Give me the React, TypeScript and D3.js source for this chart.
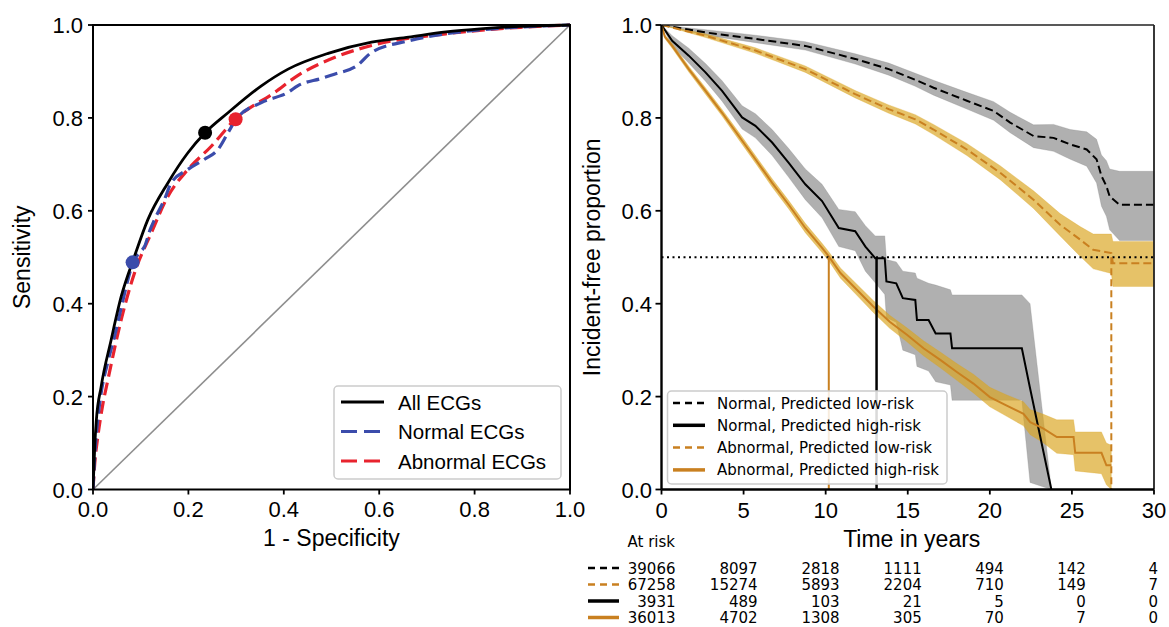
import React from 'react';
import * as d3 from 'd3';

// ---------- ROC data ----------
const allFpr = [0, 0.002, 0.004, 0.007, 0.017, 0.038, 0.059, 0.087, 0.115, 0.157, 0.199, 0.235, 0.283, 0.353, 0.409, 0.493, 0.584, 0.662, 0.740, 0.818, 0.896, 1.0];
const allTpr = [0, 0.05, 0.10, 0.149, 0.221, 0.322, 0.415, 0.502, 0.581, 0.660, 0.725, 0.768, 0.811, 0.869, 0.905, 0.939, 0.963, 0.974, 0.985, 0.992, 0.997, 1.0];
const normFpr = [0, 0.002, 0.004, 0.010, 0.017, 0.030, 0.045, 0.060, 0.073, 0.084, 0.100, 0.108, 0.120, 0.129, 0.150, 0.164, 0.199, 0.234, 0.262, 0.283, 0.300, 0.353, 0.409, 0.429, 0.479, 0.506, 0.553, 0.584, 0.662, 0.740, 0.818, 1.0];
const normTpr = [0, 0.04, 0.078, 0.150, 0.207, 0.270, 0.329, 0.395, 0.451, 0.489, 0.512, 0.523, 0.560, 0.581, 0.625, 0.660, 0.689, 0.711, 0.732, 0.768, 0.797, 0.833, 0.855, 0.869, 0.885, 0.894, 0.912, 0.941, 0.966, 0.981, 0.990, 1.0];
const abnFpr = [0, 0.004, 0.010, 0.020, 0.031, 0.059, 0.087, 0.122, 0.157, 0.199, 0.248, 0.298, 0.381, 0.429, 0.506, 0.584, 0.740, 0.896, 1.0];
const abnTpr = [0, 0.06, 0.113, 0.18, 0.235, 0.365, 0.466, 0.552, 0.631, 0.689, 0.739, 0.797, 0.855, 0.891, 0.930, 0.956, 0.981, 0.995, 1.0];
const opPoints = [
  { name: 'All', fpr: 0.235, tpr: 0.768 },
  { name: 'Normal', fpr: 0.083, tpr: 0.489 },
  { name: 'Abnormal', fpr: 0.299, tpr: 0.797 },
];
const rocTicks = [0, 0.2, 0.4, 0.6, 0.8, 1.0];

// ---------- Kaplan-Meier data ----------
const nlT = [0, 2.68, 5.72, 8.76, 11.8, 13.84, 15.46, 16.57, 18.6, 20.23, 21.24, 22.66, 23.88, 24.9, 25.9, 26.5, 26.8, 27.1, 27.3, 27.9, 30];
const nlS = [1, 0.984, 0.970, 0.955, 0.927, 0.905, 0.882, 0.865, 0.837, 0.815, 0.790, 0.761, 0.757, 0.743, 0.732, 0.711, 0.675, 0.653, 0.631, 0.613, 0.613];
const nlLo = [1, 0.978, 0.962, 0.946, 0.916, 0.892, 0.868, 0.849, 0.819, 0.795, 0.768, 0.736, 0.728, 0.711, 0.696, 0.660, 0.610, 0.588, 0.559, 0.536, 0.536];
const nlHi = [1, 0.990, 0.978, 0.964, 0.938, 0.918, 0.896, 0.881, 0.855, 0.835, 0.812, 0.785, 0.786, 0.775, 0.770, 0.754, 0.720, 0.708, 0.690, 0.685, 0.685];

const alT = [0, 2.68, 5.72, 8.76, 11.8, 13.84, 15.46, 16.57, 18.6, 20.63, 22.66, 24.28, 25.5, 26.3, 27.4, 27.5, 30];
const alS = [1, 0.977, 0.945, 0.905, 0.851, 0.819, 0.797, 0.775, 0.732, 0.682, 0.624, 0.570, 0.538, 0.516, 0.509, 0.487, 0.487];
const alLo = [1, 0.973, 0.939, 0.898, 0.843, 0.810, 0.787, 0.764, 0.719, 0.667, 0.605, 0.546, 0.502, 0.475, 0.465, 0.437, 0.437];
const alHi = [1, 0.981, 0.951, 0.912, 0.859, 0.828, 0.807, 0.786, 0.745, 0.697, 0.643, 0.594, 0.566, 0.550, 0.550, 0.534, 0.534];

const nhT = [0, 0.65, 1.66, 2.68, 3.69, 4.91, 5.72, 6.74, 7.75, 8.76, 9.78, 10.8, 11.8, 12.42, 13.02, 13.6, 13.7, 14.3, 14.7, 15.46, 15.56, 16.27, 16.7, 17.6, 17.7, 21.95, 22.45, 23.75];
const nhS = [1, 0.966, 0.934, 0.898, 0.858, 0.801, 0.783, 0.747, 0.703, 0.657, 0.621, 0.563, 0.556, 0.523, 0.498, 0.498, 0.448, 0.444, 0.412, 0.408, 0.365, 0.365, 0.336, 0.336, 0.304, 0.304, 0.218, 0.0];
const nhLo = [1, 0.955, 0.918, 0.879, 0.836, 0.776, 0.757, 0.719, 0.672, 0.624, 0.585, 0.523, 0.514, 0.470, 0.445, 0.420, 0.370, 0.360, 0.300, 0.290, 0.265, 0.255, 0.232, 0.225, 0.192, 0.192, 0.015, 0.0];
const nhHi = [1, 0.977, 0.950, 0.917, 0.880, 0.826, 0.809, 0.775, 0.734, 0.690, 0.657, 0.603, 0.598, 0.568, 0.546, 0.546, 0.495, 0.490, 0.470, 0.466, 0.455, 0.444, 0.440, 0.430, 0.419, 0.419, 0.400, 0.0];

const ahT = [0, 0.2, 0.65, 1.66, 2.68, 3.69, 4.71, 5.72, 6.74, 7.75, 8.76, 9.78, 10.19, 10.9, 11.9, 12.9, 13.9, 14.95, 15.96, 16.98, 17.99, 19.0, 20.0, 21.0, 22.05, 22.46, 23.27, 24.08, 25.1, 25.2, 26.8, 27.1, 27.4];
const ahS = [1, 0.975, 0.955, 0.905, 0.858, 0.811, 0.761, 0.711, 0.660, 0.613, 0.563, 0.520, 0.502, 0.466, 0.430, 0.394, 0.361, 0.333, 0.304, 0.279, 0.253, 0.228, 0.199, 0.181, 0.163, 0.145, 0.131, 0.113, 0.113, 0.079, 0.079, 0.052, 0.052];
const ahLo = [1, 0.971, 0.950, 0.899, 0.851, 0.804, 0.753, 0.703, 0.651, 0.604, 0.553, 0.510, 0.492, 0.455, 0.418, 0.381, 0.347, 0.318, 0.288, 0.262, 0.235, 0.208, 0.178, 0.158, 0.137, 0.118, 0.100, 0.078, 0.075, 0.040, 0.034, 0.010, 0.0];
const ahHi = [1, 0.979, 0.960, 0.911, 0.865, 0.818, 0.769, 0.719, 0.669, 0.622, 0.573, 0.530, 0.512, 0.477, 0.442, 0.407, 0.375, 0.348, 0.320, 0.296, 0.271, 0.248, 0.220, 0.204, 0.189, 0.172, 0.162, 0.150, 0.150, 0.124, 0.124, 0.100, 0.095];

const medians = [
  { t: 10.19, color: '#c98020', dash: '', width: 2 },
  { t: 13.1, color: '#000', dash: '', width: 2.5 },
  { t: 27.4, color: '#c98020', dash: '7,4', width: 2 },
];

const kmTicksX = [0, 5, 10, 15, 20, 25, 30];
const kmTicksY = [0, 0.2, 0.4, 0.6, 0.8, 1.0];

const riskTimes = [0, 5, 10, 15, 20, 25, 30];
const riskNormLow = [39066, 8097, 2818, 1111, 494, 142, 4];
const riskAbnLow = [67258, 15274, 5893, 2204, 710, 149, 7];
const riskNormHigh = [3931, 489, 103, 21, 5, 0, 0];
const riskAbnHigh = [36013, 4702, 1308, 305, 70, 7, 0];

const kmLabels = ['Normal, Predicted low-risk', 'Normal, Predicted high-risk', 'Abnormal, Predicted low-risk', 'Abnormal, Predicted high-risk'];

const BLUE = '#3b4cab';
const RED = '#e8232e';
const ORANGE = '#c98020';
const SANS = "'Liberation Sans', Arial, Helvetica, sans-serif";
const DEJAVU = "'DejaVu Sans', sans-serif";

export default function App() {
  const top = 25, bottom = 489.5;
  const xL = d3.scaleLinear().domain([0, 1]).range([93, 570]);
  const yL = d3.scaleLinear().domain([0, 1]).range([bottom, top]);
  const xR = d3.scaleLinear().domain([0, 30]).range([661.5, 1154]);
  const yR = d3.scaleLinear().domain([0, 1]).range([bottom, top]);

  const rocLine = (fx: number[], ty: number[]) =>
    d3.line<number>().x((_, i) => xL(fx[i])).y((_, i) => yL(ty[i])).curve(d3.curveMonotoneX)(fx.map((_, i) => i)) || '';

  const kmLine = (t: number[], s: number[]) =>
    d3.line<number>().x((_, i) => xR(t[i])).y((_, i) => yR(s[i]))(t.map((_, i) => i)) || '';
  const kmArea = (t: number[], lo: number[], hi: number[]) =>
    d3.area<number>().x((_, i) => xR(t[i])).y0((_, i) => yR(lo[i])).y1((_, i) => yR(hi[i]))(t.map((_, i) => i)) || '';

  const series = [
    { t: nlT, s: nlS, lo: nlLo, hi: nlHi, color: '#000', fill: '#808080', dash: '8,4', w: 2 },
    { t: alT, s: alS, lo: alLo, hi: alHi, color: ORANGE, fill: '#daa520', dash: '8,4', w: 2 },
    { t: nhT, s: nhS, lo: nhLo, hi: nhHi, color: '#000', fill: '#808080', dash: '', w: 2 },
    { t: ahT, s: ahS, lo: ahLo, hi: ahHi, color: ORANGE, fill: '#daa520', dash: '', w: 2 },
  ];
  const fillOp = (f: string) => (f === '#808080' ? 0.62 : 0.68);

  const legendKM = [
    { color: '#000', dash: '7,5', w: 2.5 },
    { color: '#000', dash: '', w: 3.5 },
    { color: ORANGE, dash: '7,5', w: 2.5 },
    { color: ORANGE, dash: '', w: 3.5 },
  ];
  const riskRows = [
    { vals: riskNormLow, color: '#000', dash: '7,5', w: 2.5 },
    { vals: riskAbnLow, color: ORANGE, dash: '7,5', w: 2.5 },
    { vals: riskNormHigh, color: '#000', dash: '', w: 3.5 },
    { vals: riskAbnHigh, color: ORANGE, dash: '', w: 3.5 },
  ];

  const rocLegend = [
    { label: 'All ECGs', color: '#000', dash: '' },
    { label: 'Normal ECGs', color: BLUE, dash: '16,7' },
    { label: 'Abnormal ECGs', color: RED, dash: '16,7' },
  ];

  return (
    <svg width={1169} height={627} style={{ position: 'absolute', left: 0, top: 0, background: '#fff' }}>
      <defs>
        <clipPath id="kmclip">
          <rect x={xR(0)} y={top} width={xR(30) - xR(0)} height={bottom - top} />
        </clipPath>
        <clipPath id="rocclip">
          <rect x={xL(0)} y={top - 2} width={xL(1) - xL(0) + 2} height={bottom - top + 2} />
        </clipPath>
      </defs>

      {/* ===== ROC panel ===== */}
      <g clipPath="url(#rocclip)">
        <line x1={xL(0)} y1={yL(0)} x2={xL(1)} y2={yL(1)} stroke="#8e8e8e" strokeWidth={1.6} />
        <path d={rocLine(abnFpr, abnTpr)} fill="none" stroke={RED} strokeWidth={3.2} strokeDasharray="13,6" />
        <path d={rocLine(normFpr, normTpr)} fill="none" stroke={BLUE} strokeWidth={3.2} strokeDasharray="13,6" />
        <path d={rocLine(allFpr, allTpr)} fill="none" stroke="#000" strokeWidth={2.8} />
      </g>
      {opPoints.map((p) => (
        <circle key={p.name} cx={xL(p.fpr)} cy={yL(p.tpr)} r={7}
          fill={p.name === 'All' ? '#000' : p.name === 'Normal' ? BLUE : RED} />
      ))}
      <rect x={xL(0)} y={top} width={xL(1) - xL(0)} height={bottom - top} fill="none" stroke="#000" strokeWidth={2} />
      {rocTicks.map((v) => (
        <g key={'lx' + v}>
          <line x1={xL(v)} x2={xL(v)} y1={bottom} y2={bottom + 5} stroke="#000" strokeWidth={1.8} />
          <text x={xL(v)} y={517} textAnchor="middle" fontFamily={SANS} fontSize={22}>{v.toFixed(1)}</text>
          <line x1={xL(0) - 5} x2={xL(0)} y1={yL(v)} y2={yL(v)} stroke="#000" strokeWidth={1.8} />
          <text x={83} y={yL(v) + 8} textAnchor="end" fontFamily={SANS} fontSize={22}>{v.toFixed(1)}</text>
        </g>
      ))}
      <text x={(xL(0) + xL(1)) / 2} y={546} textAnchor="middle" fontFamily={SANS} fontSize={23}>1 - Specificity</text>
      <text transform={`translate(30,${(top + bottom) / 2}) rotate(-90)`} textAnchor="middle" fontFamily={SANS} fontSize={23}>Sensitivity</text>

      {/* ROC legend */}
      <rect x={334} y={386} width={227} height={93} rx={4} fill="#fff" fillOpacity={0.85} stroke="#cccccc" strokeWidth={1.5} />
      {rocLegend.map((e, i) => (
        <g key={e.label}>
          <line x1={341} x2={384} y1={402 + i * 29.5} y2={402 + i * 29.5} stroke={e.color} strokeWidth={3.2} strokeDasharray={e.dash} />
          <text x={398} y={402 + i * 29.5 + 7.5} fontFamily={SANS} fontSize={20.5}>{e.label}</text>
        </g>
      ))}

      {/* ===== KM panel ===== */}
      <g clipPath="url(#kmclip)">
        {series.map((s, i) => (
          <path key={'a' + i} d={kmArea(s.t, s.lo, s.hi)} fill={s.fill} fillOpacity={fillOp(s.fill)}
            stroke={s.fill} strokeOpacity={0.25} strokeWidth={1} />
        ))}
        {series.map((s, i) => (
          <path key={'l' + i} d={kmLine(s.t, s.s)} fill="none" stroke={s.color} strokeWidth={s.w} strokeDasharray={s.dash} />
        ))}
        <line x1={xR(0)} x2={xR(30)} y1={yR(0.5)} y2={yR(0.5)} stroke="#000" strokeWidth={2} strokeDasharray="2,3.5" />
        {medians.map((m, i) => (
          <line key={'m' + i} x1={xR(m.t)} x2={xR(m.t)} y1={yR(0.5)} y2={yR(0)} stroke={m.color}
            strokeWidth={m.width} strokeDasharray={m.dash} />
        ))}
      </g>
      <line x1={xR(0)} x2={xR(30)} y1={top} y2={top} stroke="#222" strokeWidth={1.5} />
      <line x1={xR(30)} x2={xR(30)} y1={top} y2={bottom} stroke="#222" strokeWidth={1.8} />
      <line x1={xR(0)} x2={xR(0)} y1={top} y2={bottom} stroke="#000" strokeWidth={2.4} />
      <line x1={xR(0)} x2={xR(30)} y1={bottom} y2={bottom} stroke="#000" strokeWidth={2.4} />
      {kmTicksX.map((v) => (
        <g key={'kx' + v}>
          <line x1={xR(v)} x2={xR(v)} y1={bottom} y2={bottom + 5} stroke="#000" strokeWidth={1.8} />
          <text x={xR(v)} y={518} textAnchor="middle" fontFamily={SANS} fontSize={22}>{v}</text>
        </g>
      ))}
      {kmTicksY.map((v) => (
        <g key={'ky' + v}>
          <line x1={xR(0) - 6} x2={xR(0)} y1={yR(v)} y2={yR(v)} stroke="#000" strokeWidth={1.8} />
          <text x={652} y={yR(v) + 8} textAnchor="end" fontFamily={SANS} fontSize={22}>{v.toFixed(1)}</text>
        </g>
      ))}
      <text x={(xR(0) + xR(30)) / 2 + 4} y={547} textAnchor="middle" fontFamily={SANS} fontSize={23}>Time in years</text>
      <text transform={`translate(600,${(top + bottom) / 2}) rotate(-90)`} textAnchor="middle" fontFamily={SANS} fontSize={23}>Incident-free proportion</text>

      {/* KM legend */}
      <rect x={667.5} y={391} width={279.5} height={93} rx={4} fill="#fff" fillOpacity={0.85} stroke="#cccccc" strokeWidth={1.5} />
      {legendKM.map((e, i) => (
        <g key={'lk' + i}>
          <line x1={673} x2={705} y1={403 + i * 22.3} y2={403 + i * 22.3} stroke={e.color} strokeWidth={e.w} strokeDasharray={e.dash} />
          <text x={717} y={403 + i * 22.3 + 5.5} fontFamily={DEJAVU} fontSize={15}>{kmLabels[i]}</text>
        </g>
      ))}

      {/* At-risk table */}
      <text x={675} y={547} textAnchor="end" fontFamily={DEJAVU} fontSize={15}>At risk</text>
      {riskRows.map((r, ri) => {
        const yb = 573.5 + ri * 16.5;
        return (
          <g key={'rr' + ri}>
            <line x1={588} x2={619} y1={yb - 5.5} y2={yb - 5.5} stroke={r.color} strokeWidth={r.w} strokeDasharray={r.dash} />
            {r.vals.map((v, ci) => (
              <text key={ci} x={Math.min(xR(riskTimes[ci]) + 14, 1158)} y={yb} textAnchor="end" fontFamily={DEJAVU} fontSize={15}>{v}</text>
            ))}
          </g>
        );
      })}
    </svg>
  );
}
